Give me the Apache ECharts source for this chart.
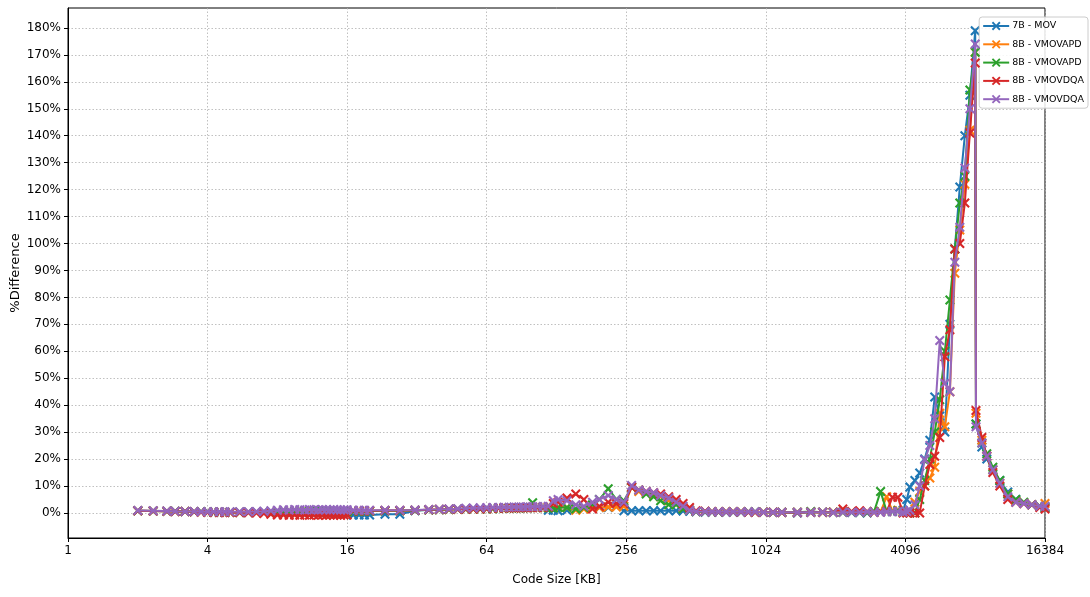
<!DOCTYPE html>
<html>
<head>
<meta charset="utf-8">
<script src="https://cdn.jsdelivr.net/npm/echarts@6/dist/echarts.min.js"></script>
<style>
html,body{margin:0;padding:0;background:#fff;}
#chart{width:1090px;height:597px;}
</style>
</head>
<body>
<div id="chart"></div>
<script>
// Code size in KB (x values)
const codeSizeKB = [
  2, 2.33, 2.67, 2.9, 3.2, 3.5, 3.75, 4, 4.25, 4.5, 4.75, 5, 5.5, 6, 6.5, 7, 7.5, 8,
  8.5, 9, 9.5, 10, 10.5, 11, 11.5, 12, 12.5, 13, 13.5, 14, 14.5, 15, 15.5, 16,
  17, 18, 19, 20, 23.3, 27, 31.4,
  36, 40, 44, 48, 52, 56, 60, 64, 68, 72, 76, 80, 84, 88, 92, 96, 101, 106, 112, 118, 124, 130,
  142, 155, 168, 183, 196, 214, 232, 250, 270, 290, 312, 336, 360, 390, 420, 450, 480, 512,
  560, 600, 640, 690, 740, 800, 860, 920, 1000, 1100, 1200, 1400, 1600, 1800, 2000, 2200, 2400, 2600, 2800, 3000, 3200, 3400, 3600, 3800,
  4000, 4150, 4280, 4500, 4720, 4960, 5220, 5480, 5760, 6060, 6370, 6690, 7030, 7390, 7770, 8192,
  8256, 8750, 9190, 9760, 10460, 11320, 12260, 13270, 14370, 15560, 16384
];

// % difference per series
const mov7B = [
  0.8,0.7,0.6,0.5,0.5,0.4,0.4,0.3,0.3,0.3,0.2,0.3,0.2,0.2,0.3,0.2,0.3,0.3,
  0.3,0.3,0.3,0.3,0.3,0.3,0.3,0.3,0.3,0.3,0.3,0.3,0.3,0.3,0.3,0.2,
  -0.8,-0.8,-0.8,-0.8,-0.5,-0.5,0.8,
  1.2,1.3,1.4,1.5,1.5,1.6,1.6,1.7,1.7,1.8,1.8,1.8,1.9,1.9,1.9,1.9,2.0,2.0,2.0,1.0,1.0,0.8,
  1.0,1.5,2.0,2.0,2.0,2.0,2.5,0.8,0.8,0.8,0.8,0.8,0.8,0.8,0.8,0.7,0.6,0.4,
  0.3,0.3,0.3,0.3,0.3,0.3,0.3,0.3,0.3,0.2,0.2,0.0,0.2,0.3,0.2,0.3,0.2,0.3,0.0,0.3,0.5,0.8,0.5,0.8,
  1.0,5.0,9.6,12.0,14.8,20.0,27.0,43.0,36.0,30.0,70.0,98.0,121.0,140.0,155.0,179.0,
  33,24.5,20,16,12,7.8,5,3.5,3,2.5,2
];
const vmovapd8B_1 = [
  0.8,0.7,0.6,0.5,0.5,0.4,0.4,0.3,0.3,0.3,0.3,0.3,0.2,0.3,0.3,0.3,0.4,0.5,
  0.5,0.5,0.5,0.5,0.5,0.5,0.5,0.5,0.5,0.5,0.5,0.5,0.5,0.5,0.5,0.5,
  0.6,0.6,0.7,0.7,0.8,0.8,1.0,
  1.2,1.3,1.3,1.4,1.5,1.5,1.6,1.6,1.7,1.7,1.8,1.8,1.8,1.9,1.9,2.0,2.0,2.0,2.1,2.0,2.0,2.2,
  2.0,1.0,1.5,2.0,2.0,2.2,2.2,2.5,9.5,8.0,7.5,6.5,6.0,4.5,3.5,2.0,1.0,0.5,
  0.5,0.4,0.4,0.4,0.4,0.4,0.4,0.3,0.3,0.3,0.3,0.3,0.3,0.2,0.3,0.3,0.4,0.5,0.3,0.3,0.5,6.0,0.8,1.0,
  0.5,0.3,0.5,4.0,8.0,10.0,13.0,17.0,37.0,32.0,45.0,89.0,105.0,122.0,142.0,171.0,
  37,27,21,16,11,7,4.5,3.5,3,2.5,3.5
];
const vmovapd8B_2 = [
  0.8,0.7,0.6,0.6,0.5,0.4,0.4,0.4,0.3,0.3,0.3,0.3,0.3,0.3,0.3,0.4,0.4,0.5,
  0.4,0.5,0.6,0.4,0.5,0.6,0.4,0.5,0.6,0.4,0.5,0.6,0.4,0.5,0.6,0.5,
  0.6,0.6,0.7,0.7,0.8,0.8,1.0,
  1.1,1.2,1.3,1.4,1.4,1.5,1.5,1.6,1.6,1.7,1.7,1.8,1.8,1.8,1.9,1.9,3.8,2.0,2.0,1.8,1.8,2.0,
  2.0,1.5,2.0,3.0,5.0,9.0,5.0,4.5,9.5,8.5,7.0,6.0,4.5,3.0,3.0,1.5,1.0,0.5,
  0.5,0.4,0.4,0.4,0.4,0.4,0.4,0.4,0.3,0.3,0.3,0.3,0.5,0.3,0.3,0.3,0.3,0.2,0.3,0.5,8.0,0.5,0.5,0.8,
  0.3,0.3,0.0,0.0,5.0,12.0,20.0,30.0,42.0,60.0,79.0,98.0,115.0,125.0,157.0,171.0,
  33,26,22,17,12,7,5,4,3,2.5,2
];
const vmovdqa8B_1 = [
  0.8,0.7,0.6,0.5,0.5,0.4,0.3,0.3,0.3,0.2,0.2,0.2,0.2,0.1,0.0,-0.2,-0.5,-0.8,
  -0.8,-0.9,-0.8,-0.9,-0.8,-0.9,-0.8,-0.9,-0.8,-0.9,-0.8,-0.9,-0.8,-0.9,-0.8,-0.8,
  0.8,0.8,0.8,0.8,0.9,0.9,1.0,
  1.2,1.3,1.4,1.4,1.5,1.5,1.6,1.6,1.7,1.7,1.8,1.8,1.8,1.9,1.9,1.9,2.0,2.0,2.0,2.2,3.5,4.0,
  5.5,7.0,5.0,1.5,2.5,4.0,3.5,3.5,9.5,8.5,8.0,7.5,7.0,6.0,5.0,3.5,2.0,0.8,
  0.6,0.4,0.4,0.4,0.4,0.4,0.3,0.3,0.3,0.3,0.2,0.2,0.3,0.3,0.3,1.5,0.5,0.8,0.5,0.3,0.4,0.5,5.8,5.8,
  0.0,0.0,0.0,0.0,0.0,10.0,18.0,21.0,28.0,58.0,68.0,98.0,100.0,115.0,141.0,167.0,
  38,28,21,15,10,5,4,3.5,3,2,1.5
];
const vmovdqa8B_2 = [
  0.9,0.8,0.7,0.6,0.5,0.5,0.4,0.4,0.4,0.4,0.4,0.4,0.4,0.4,0.5,0.6,0.8,1.0,
  1.2,1.1,1.3,1.2,1.1,1.3,1.2,1.1,1.3,1.2,1.1,1.3,1.2,1.1,1.2,1.2,
  1.0,1.0,1.0,1.0,1.0,1.0,1.1,
  1.3,1.4,1.5,1.6,1.7,1.8,1.9,1.9,2.0,2.0,2.1,2.1,2.2,2.2,2.2,2.3,2.3,2.4,2.4,2.5,4.5,5.0,
  4.5,3.0,2.5,4.0,5.0,6.5,5.0,4.0,10.2,8.5,8.0,7.5,6.5,5.5,4.0,2.5,1.0,0.5,
  0.5,0.4,0.4,0.4,0.4,0.4,0.4,0.4,0.3,0.3,0.3,0.3,0.3,0.3,0.2,0.3,0.3,0.3,0.4,0.3,0.3,0.4,0.5,0.5,
  0.3,0.5,1.0,3.0,10.0,19.7,25.0,35.0,64.0,48.0,45.0,93.0,106.0,128.0,150.0,174.0,
  32,26,21,16,11,6,4,3.5,3,2.5,2.5
];

const seriesNames = ['7B - MOV', '8B - VMOVAPD', '8B - VMOVAPD\u200b', '8B - VMOVDQA', '8B - VMOVDQA\u200b'];
const seriesValues = [mov7B, vmovapd8B_1, vmovapd8B_2, vmovdqa8B_1, vmovdqa8B_2];
const seriesColors = ['#1f77b4', '#ff7f0e', '#2ca02c', '#d62728', '#9467bd'];
const yTickValues = [0,10,20,30,40,50,60,70,80,90,100,110,120,130,140,150,160,170,180];

const xMarker = 'path://M1.5,0 L5,3.5 L8.5,0 L10,1.5 L6.5,5 L10,8.5 L8.5,10 L5,6.5 L1.5,10 L0,8.5 L3.5,5 L0,1.5 Z';
const FONT = '"DejaVu Sans", sans-serif';

const chart = echarts.init(document.getElementById('chart'), null, {renderer: 'canvas'});
chart.setOption({
  animation: false,
  backgroundColor: '#fff',
  grid: {left: 68, right: 45, top: 8, bottom: 59, show: true, borderColor: '#000', borderWidth: 1,
         backgroundColor: 'transparent', containLabel: false, outerBoundsMode: 'none'},
  legend: {
    orient: 'vertical', right: 2, top: 17,
    itemWidth: 26, itemHeight: 11, itemGap: 8.3,
    padding: [4, 4, 4, 3],
    backgroundColor: 'rgba(255,255,255,0.85)', borderColor: '#cccccc', borderWidth: 1, borderRadius: 3,
    textStyle: {fontFamily: FONT, fontSize: 9.5, color: '#000', padding: [0,0,0,-2]},
    formatter: n => n.replace(/\u200b/g, ''),
    data: seriesNames
  },
  xAxis: {
    type: 'log', logBase: 4, min: 1, max: 16384,
    name: 'Code Size [KB]', nameLocation: 'middle', nameGap: 36,
    nameTextStyle: {fontFamily: FONT, fontSize: 12, color: '#000'},
    axisLine: {show: true, onZero: false, lineStyle: {color: '#000', width: 1}},
    axisTick: {show: true, length: 4, lineStyle: {color: '#000'}},
    axisLabel: {fontFamily: FONT, fontSize: 12, color: '#000', margin: 7, formatter: v => String(Math.round(v))},
    splitLine: {show: true, lineStyle: {color: '#b0b0b0', type: [1.5, 2], width: 0.8}},
    minorTick: {show: false}
  },
  yAxis: {
    type: 'value', min: -9.3, max: 187.4,
    name: '%Difference', nameLocation: 'middle', nameGap: 46, nameRotate: 90, nameMoveOverlap: false,
    nameTextStyle: {fontFamily: FONT, fontSize: 13, color: '#000'},
    axisLine: {show: true, onZero: false, lineStyle: {color: '#000', width: 1}},
    axisTick: {show: true, length: 4, lineStyle: {color: '#000'}, customValues: yTickValues},
    axisLabel: {fontFamily: FONT, fontSize: 12, color: '#000', margin: 7, customValues: yTickValues, formatter: v => Math.round(v) + '%'},
    splitLine: {show: true, lineStyle: {color: '#b0b0b0', type: [1.5, 2], width: 0.8}},
    interval: 10
  },
  series: seriesNames.map((name, k) => ({
    name: name,
    type: 'line',
    data: codeSizeKB.map((x, i) => [x, seriesValues[k][i]]),
    symbol: xMarker,
    symbolSize: 10,
    showSymbol: true,
    color: seriesColors[k],
    itemStyle: {color: seriesColors[k]},
    lineStyle: {width: 2, color: seriesColors[k]},
    z: 2 + k
  }))
});
</script>
</body>
</html>
